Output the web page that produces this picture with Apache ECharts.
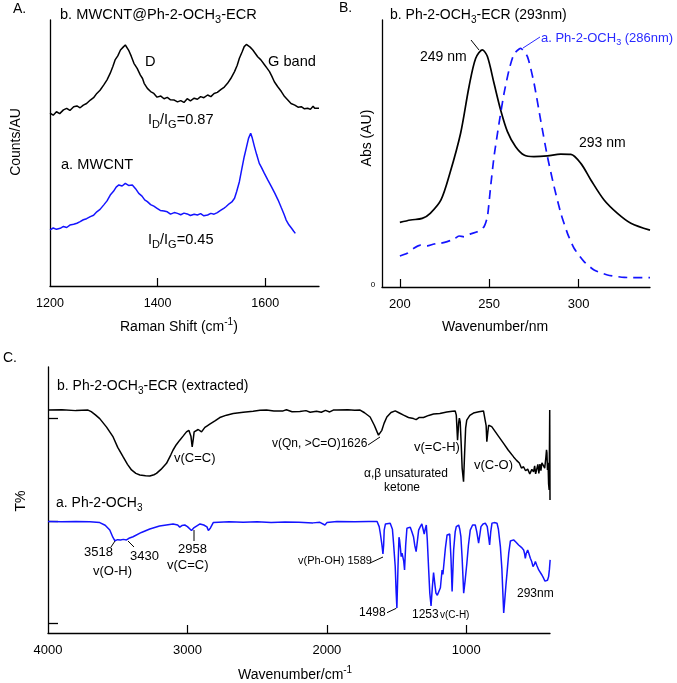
<!DOCTYPE html>
<html><head><meta charset="utf-8">
<script src="https://cdn.jsdelivr.net/npm/echarts@6/dist/echarts.min.js"></script>
<style>html,body{margin:0;padding:0;background:#fff}#c{width:677px;height:683px}</style>
</head><body><div id="c"></div>
<script>
const FONT = '"Liberation Sans", Arial, Helvetica, sans-serif';
const BLUE = '#1414ff';

// ---------- Panel A: Raman ----------
const ramanTicks = [1200, 1400, 1600];
const ramanECR = [[1200,65.0],[1206,64.2],[1212,65.5],[1218,64.8],[1225,66.2],[1231,66.8],[1237,66.0],[1244,67.4],[1250,67.7],[1256,67.0],[1262,68.0],[1268,68.6],[1275,69.9],[1281,70.8],[1287,72.4],[1293,73.6],[1300,75.6],[1306,77.5],[1312,80.0],[1317,82.6],[1321,85.0],[1326,86.5],[1331,88.7],[1336,89.8],[1340,90.6],[1343,90.0],[1346,88.7],[1351,86.4],[1356,83.7],[1362,81.8],[1368,79.3],[1372,78.0],[1375,76.2],[1381,74.3],[1387,73.1],[1393,72.4],[1399,71.0],[1406,71.4],[1412,70.4],[1418,70.9],[1424,70.0],[1431,69.9],[1437,69.2],[1443,69.7],[1449,69.0],[1455,70.4],[1461,69.6],[1468,70.6],[1474,70.2],[1480,71.2],[1486,70.8],[1493,71.8],[1499,71.2],[1505,72.4],[1511,72.8],[1518,73.9],[1524,74.8],[1530,76.2],[1536,78.0],[1543,80.6],[1548,83.0],[1552,85.6],[1557,88.0],[1561,90.0],[1565,90.8],[1568,90.4],[1572,89.8],[1577,88.7],[1581,87.6],[1586,86.2],[1592,85.0],[1599,83.1],[1603,82.0],[1608,80.6],[1612,79.0],[1617,76.8],[1623,75.0],[1630,73.1],[1636,71.2],[1642,69.9],[1648,68.6],[1655,68.0],[1661,67.2],[1667,67.4],[1673,66.6],[1679,66.8],[1684,66.4],[1689,67.6],[1692,66.8],[1695,66.2],[1700,66.8]];
const ramanMWCNT = [[1200,21.1],[1206,21.8],[1212,21.3],[1219,21.7],[1225,22.4],[1231,22.0],[1237,22.9],[1244,23.2],[1250,23.6],[1256,24.2],[1262,24.9],[1268,25.3],[1275,26.1],[1281,26.6],[1287,27.9],[1293,28.8],[1300,30.5],[1306,32.0],[1312,34.2],[1318,35.6],[1323,37.2],[1328,38.0],[1334,37.6],[1340,38.6],[1346,37.8],[1353,38.0],[1359,36.6],[1365,34.8],[1371,33.8],[1376,32.4],[1381,31.7],[1387,30.6],[1393,30.0],[1399,29.2],[1405,28.4],[1412,28.2],[1418,27.9],[1424,27.0],[1431,27.6],[1437,27.3],[1443,26.8],[1449,27.4],[1455,27.1],[1461,26.5],[1468,27.0],[1474,26.7],[1480,27.2],[1486,26.4],[1493,26.7],[1499,27.3],[1505,27.0],[1511,27.6],[1517,28.4],[1523,29.2],[1527,29.8],[1533,30.9],[1538,31.6],[1543,33.0],[1547,35.5],[1552,39.2],[1556,43.5],[1561,48.6],[1565,52.0],[1569,55.5],[1573,57.4],[1576,55.6],[1580,52.4],[1584,49.5],[1589,46.1],[1593,44.6],[1598,42.5],[1605,39.8],[1612,37.2],[1618,34.8],[1624,32.3],[1630,29.4],[1635,27.0],[1639,24.8],[1644,23.0],[1649,21.7],[1653,20.6],[1656,19.8]];

// ---------- Panel B: UV-Vis ----------
const uvTicks = [200, 250, 300];
const uvECR = [[200,24.2],[206,25.1],[212.5,25.7],[217,27.6],[223,32.6],[228,42.6],[234,57.6],[238.7,75.0],[242.4,85.6],[246.2,88.8],[249,86.3],[252.7,76.3],[256.4,66.3],[260.2,58.2],[264.8,52.5],[269.5,49.4],[275,48.8],[282.6,49.1],[290,49.8],[295.7,49.7],[301.3,46.3],[306.9,40.1],[314.3,32.6],[321.8,27.6],[329.3,23.9],[340,21.3]];
const uvMonomer = [[200,11.6],[204.1,12.6],[207.8,14.5],[211.6,15.7],[215.3,15.4],[219.1,16.1],[222.8,16.4],[226.5,17.0],[230.3,17.9],[233.1,19.1],[235.9,18.8],[239.6,19.9],[243.3,20.7],[247.1,22.6],[249,26.3],[250.8,37.6],[252.7,48.8],[255.5,61.3],[258.3,72.5],[261.1,81.3],[263.9,87.3],[267.6,89.4],[271.4,86.3],[275.1,76.3],[278.8,62.5],[282.6,48.8],[286.3,37.6],[290.1,27.6],[293.8,20.1],[297.5,14.5],[303.1,9.5],[308.7,6.4],[316.2,4.5],[325.6,3.6],[340,3.5]];

// ---------- Panel C: FTIR ----------
const irTicks = [4000, 3000, 2000, 1000];
const irECR = [[4000,83.8],[3900,83.9],[3800,83.6],[3713,83.8],[3690,83.2],[3660,82.0],[3629,80.6],[3580,77.4],[3533,73.7],[3500,69.8],[3461,66.2],[3430,63.4],[3401,61.3],[3370,60.0],[3341,59.4],[3300,59.1],[3270,59.0],[3240,59.5],[3222,60.0],[3190,61.5],[3150,63.8],[3120,66.9],[3103,68.8],[3080,70.8],[3055,72.5],[3030,74.1],[3007,75.6],[2990,76.2],[2983,76.5],[2975,74.0],[2966,70.0],[2958,73.0],[2952,75.6],[2940,76.3],[2923,76.5],[2910,75.8],[2899,75.6],[2887,76.2],[2875,77.3],[2858,77.9],[2840,78.5],[2800,79.8],[2768,81.0],[2720,81.9],[2672,82.5],[2600,83.0],[2529,83.4],[2480,83.7],[2433,83.8],[2380,83.5],[2314,83.5],[2290,83.9],[2250,83.2],[2194,83.3],[2150,83.6],[2120,83.0],[2074,83.4],[2040,83.0],[2010,83.7],[1980,83.1],[1954,83.8],[1928,83.8],[1850,83.9],[1800,83.7],[1762,83.8],[1730,82.8],[1690,81.2],[1660,78.1],[1640,75.6],[1630,74.4],[1618,75.0],[1606,76.2],[1590,78.8],[1570,81.2],[1540,82.9],[1510,83.5],[1480,82.7],[1450,81.9],[1415,81.0],[1379,80.6],[1360,80.2],[1340,81.0],[1307,81.0],[1270,81.8],[1235,82.3],[1190,82.5],[1140,83.1],[1100,83.4],[1080,83.5],[1072,81.9],[1063,72.5],[1055,79.0],[1050,80.8],[1044,79.4],[1036,70.0],[1030,62.0],[1020,56.9],[1012,68.0],[1005,77.0],[997,80.0],[975,81.8],[949,82.7],[910,83.2],[877,83.5],[865,83.4],[858,78.0],[853,71.9],[846,75.5],[840,78.1],[829,78.8],[818,77.6],[805,76.9],[770,74.0],[733,71.3],[700,68.8],[661,66.2],[640,64.9],[620,63.9],[605,62.0],[590,62.5],[575,61.0],[560,61.6],[545,59.8],[530,61.5],[518,60.6],[510,62.8],[503,59.8],[494,60.5],[487,63.4],[480,60.0],[472,63.5],[465,61.0],[458,64.0],[446,63.9],[438,62.0],[430,65.8],[425,68.9],[422,67.7],[418,61.3],[414,64.0],[410,56.0],[406,53.8],[402,83.8],[400,50.0]];
const irMonomer = [[4000,41.9],[3900,41.8],[3800,41.9],[3700,41.8],[3629,41.5],[3590,40.5],[3557,38.7],[3535,36.0],[3521,34.7],[3500,35.1],[3480,35.0],[3460,35.2],[3437,35.0],[3420,35.6],[3390,36.2],[3330,37.8],[3270,39.1],[3200,40.2],[3103,41.0],[3070,40.6],[3055,39.8],[3040,40.4],[3019,40.6],[3000,40.0],[2990,39.9],[2971,38.5],[2955,39.5],[2935,40.2],[2910,41.0],[2883,40.6],[2860,39.9],[2850,38.5],[2844,38.1],[2835,39.5],[2815,41.5],[2700,41.8],[2600,41.6],[2500,41.8],[2400,41.5],[2300,41.7],[2200,41.6],[2100,41.4],[2050,41.6],[2014,40.6],[2000,41.5],[1928,41.9],[1800,41.8],[1700,41.9],[1640,41.9],[1625,40.0],[1617,37.5],[1605,33.0],[1598,29.7],[1593,33.0],[1589,38.7],[1580,41.0],[1570,41.5],[1546,41.3],[1530,39.0],[1522,33.8],[1510,25.0],[1503,15.0],[1498,9.4],[1490,25.0],[1483,36.0],[1479,35.0],[1473,32.0],[1467,28.7],[1461,30.0],[1455,29.4],[1449,27.0],[1443,23.7],[1435,33.0],[1426,39.4],[1415,39.8],[1402,39.8],[1390,38.0],[1379,36.2],[1370,33.0],[1360,30.6],[1350,35.0],[1342,38.7],[1330,40.0],[1319,41.0],[1310,39.0],[1302,37.2],[1295,39.0],[1287,40.6],[1280,35.0],[1270,23.7],[1262,15.0],[1253,10.2],[1244,17.0],[1235,22.7],[1225,18.0],[1218,15.0],[1208,14.2],[1198,14.0],[1186,17.0],[1174,23.7],[1168,22.0],[1162,22.5],[1150,32.0],[1138,36.9],[1128,37.2],[1119,37.2],[1110,28.0],[1102,15.6],[1096,24.0],[1091,31.2],[1080,38.0],[1072,40.0],[1063,40.6],[1055,40.6],[1047,39.0],[1039,36.2],[1030,28.0],[1019,15.0],[1008,20.0],[996,26.3],[985,33.0],[972,38.7],[955,40.6],[936,40.6],[925,38.0],[912,33.8],[903,37.0],[895,40.0],[880,41.0],[864,41.3],[850,40.0],[840,36.0],[833,33.1],[825,38.0],[816,41.3],[800,41.5],[780,41.3],[770,39.0],[756,32.5],[745,24.0],[738,15.0],[732,7.5],[725,12.0],[716,18.0],[708,22.7],[696,30.0],[684,34.6],[672,35.0],[661,35.0],[645,34.2],[625,33.1],[605,32.2],[589,31.2],[583,30.0],[577,28.1],[570,30.0],[560,31.2],[552,30.0],[541,28.1],[532,27.0],[522,25.0],[512,25.8],[505,26.9],[495,25.5],[481,23.7],[470,23.0],[458,21.8],[446,20.6],[436,19.5],[427,18.8],[418,19.8],[410,21.2],[404,24.0],[399,27.5]];
const irYTicks = [3.75, 41.9, 80.6];

// ---------- helpers ----------
function txt(x, y, segs, fs, color, align, rot) {
  if (typeof segs === 'string') segs = [['n', segs]];
  const text = segs.map(s => '{' + s[0] + '|' + s[1] + '}').join('');
  const sfs = Math.round(fs * 0.72);
  const lh = fs + 6;
  const el = {
    type: 'text', x: x, y: y, silent: true, z: 100,
    style: {
      text: text, align: align || 'left', verticalAlign: 'middle',
      rich: {
        n: {fontSize: fs, fontFamily: FONT, fill: color || '#000', lineHeight: lh, verticalAlign: 'middle'},
        s: {fontSize: sfs, fontFamily: FONT, fill: color || '#000', lineHeight: sfs, verticalAlign: 'bottom'},
        p: {fontSize: sfs, fontFamily: FONT, fill: color || '#000', lineHeight: sfs, verticalAlign: 'top'}
      }
    }
  };
  if (rot) el.rotation = rot;
  return el;
}
function ln(x1, y1, x2, y2, color) {
  return {type: 'line', silent: true, z: 100, shape: {x1, y1, x2, y2}, style: {stroke: color || '#000', lineWidth: 1}};
}

const axLine = {show: true, onZero: false, lineStyle: {color: '#000', width: 1.3}};
function xAx(gi, min, max, labels, ticks, fs, inverse) {
  return {
    gridIndex: gi, type: 'value', min: min, max: max, inverse: !!inverse,
    axisLine: axLine,
    axisTick: {show: true, inside: true, length: 8, customValues: ticks, lineStyle: {color: '#000', width: 1.2}},
    axisLabel: {customValues: labels, color: '#000', fontSize: fs, fontFamily: FONT, margin: 11,
      formatter: function (v) { return String(v); }},
    splitLine: {show: false}
  };
}
function yAx(gi, extra) {
  return Object.assign({
    gridIndex: gi, type: 'value', min: 0, max: 100,
    axisLine: axLine, axisTick: {show: false}, axisLabel: {show: false}, splitLine: {show: false}
  }, extra || {});
}
function lineSeries(xi, data, color, width, extra) {
  return Object.assign({
    type: 'line', xAxisIndex: xi, yAxisIndex: xi, data: data, symbol: 'none', showSymbol: false,
    lineStyle: {color: color, width: width}, animation: false, z: 3
  }, extra || {});
}

const graphics = [
  // Panel A
  txt(13, 9, 'A.', 14),
  txt(60, 15, [['n','b. MWCNT@Ph-2-OCH'],['s','3'],['n','-ECR']], 14.6),
  txt(145, 62, 'D', 14.6),
  txt(268, 62, 'G band', 14.6),
  txt(148, 120, [['n','I'],['s','D'],['n','/I'],['s','G'],['n','=0.87']], 14.6),
  txt(61, 165, 'a. MWCNT', 14.6),
  txt(148, 240, [['n','I'],['s','D'],['n','/I'],['s','G'],['n','=0.45']], 14.6),
  txt(16, 142, 'Counts/AU', 14, '#000', 'center', Math.PI / 2),
  txt(120, 327, [['n','Raman Shift (cm'],['p','-1'],['n',')']], 14),
  // Panel B
  txt(339, 8, 'B.', 14),
  txt(390, 15, [['n','b. Ph-2-OCH'],['s','3'],['n','-ECR (293nm)']], 14),
  txt(541, 38, [['n','a. Ph-2-OCH'],['s','3'],['n',' (286nm)']], 13, '#2a2aff'),
  txt(420, 57, '249 nm', 14),
  txt(579, 143, '293 nm', 14),
  txt(367, 138, 'Abs (AU)', 14, '#000', 'center', Math.PI / 2),
  txt(373, 285, '0', 8, '#000', 'center'),
  txt(442, 327, 'Wavenumber/nm', 14),
  ln(471, 40, 479, 50),
  ln(523, 48, 540, 37, '#2a2aff'),
  // Panel C
  txt(3, 358, 'C.', 14),
  txt(57, 386, [['n','b. Ph-2-OCH'],['s','3'],['n','-ECR (extracted)']], 14),
  txt(56, 503, [['n','a. Ph-2-OCH'],['s','3']], 14),
  txt(21, 501, 'T%', 14, '#000', 'center', Math.PI / 2),
  txt(174, 458, 'v(C=C)', 13),
  txt(84, 552, '3518', 13),
  txt(130, 556, '3430', 13),
  txt(93, 571, 'v(O-H)', 13),
  txt(178, 549, '2958', 13),
  txt(167, 565, 'v(C=C)', 13),
  txt(272, 444, 'v(Qn, >C=O)1626', 12),
  txt(414, 447, 'v(=C-H)', 13),
  txt(364, 474, 'α,β unsaturated', 12),
  txt(402, 488, 'ketone', 12, '#000', 'center'),
  txt(474, 465, 'v(C-O)', 13),
  txt(298, 561, 'v(Ph-OH) 1589', 11),
  txt(359, 613, '1498', 12),
  txt(412, 615, '1253', 12),
  txt(440, 615, 'v(C-H)', 10),
  txt(517, 594, '293nm', 12),
  txt(238, 675, [['n','Wavenumber/cm'],['p','-1']], 14),
  ln(115, 541, 111, 547),
  ln(128, 541, 134, 547),
  ln(194, 530, 194, 541),
  ln(368, 445, 380, 437),
  ln(370, 563, 383, 557),
  ln(387, 612.7, 396.3, 608.3)
];

const option = {
  animation: false,
  backgroundColor: '#fff',
  grid: [
    {left: 50, top: 20, width: 269, height: 266, containLabel: false},
    {left: 382, top: 20, width: 268, height: 267, containLabel: false},
    {left: 48, top: 367, width: 502, height: 266, containLabel: false}
  ],
  xAxis: [
    xAx(0, 1200, 1700, ramanTicks, [1400, 1600], 12.5),
    xAx(1, 190, 340, uvTicks, [200, 250, 300], 13),
    xAx(2, 400, 4000, irTicks, [3000, 2000, 1000], 13, true)
  ],
  yAxis: [
    yAx(0),
    yAx(1),
    yAx(2, {axisTick: {show: true, inside: true, length: 10, customValues: irYTicks, lineStyle: {color: '#000', width: 1.3}}})
  ],
  series: [
    lineSeries(0, ramanECR, '#000', 1.5),
    lineSeries(0, ramanMWCNT, BLUE, 1.5),
    lineSeries(1, uvECR, '#000', 1.7, {smooth: 0.3}),
    lineSeries(1, uvMonomer, BLUE, 1.7, {smooth: 0.2, lineStyle: {color: BLUE, width: 1.7, type: [9, 6]}}),
    lineSeries(2, irECR, '#000', 1.5),
    lineSeries(2, irMonomer, BLUE, 1.5)
  ],
  graphic: graphics
};

const chart = echarts.init(document.getElementById('c'), null, {renderer: 'canvas'});
chart.setOption(option);
</script>
</body></html>
